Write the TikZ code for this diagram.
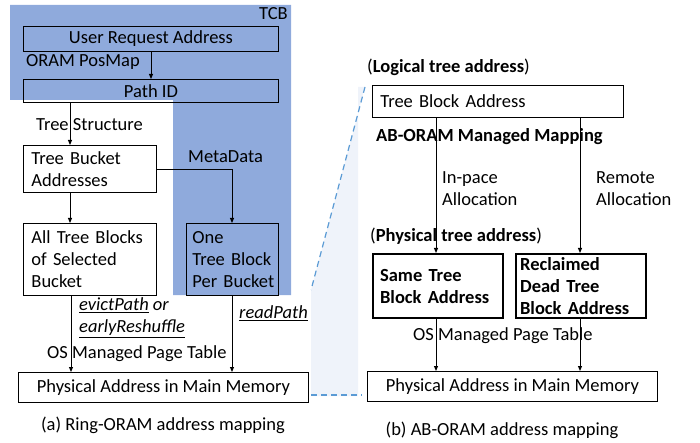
\documentclass[tikz,border=0pt]{standalone}
\usepackage{fontspec}
\setmainfont{Carlito}
\usetikzlibrary{arrows.meta}
\definecolor{tcbblue}{RGB}{143,170,220}
\definecolor{dashblue}{RGB}{91,155,213}
\definecolor{zoomshade}{RGB}{239,243,250}
\begin{document}
\begin{tikzpicture}[x=1pt,y=-1pt,
  every node/.style={font=\fontsize{18.5}{22}\selectfont, text=black},
  box/.style={draw=black, line width=0.9pt, anchor=north west, inner sep=0pt},
  tbox/.style={draw=black, line width=2.2pt, anchor=north west, inner sep=0pt},
  lbl/.style={anchor=west, inner sep=0pt, align=left},
  arr/.style={line width=0.9pt, -{Triangle[length=5pt,width=4pt]}}]
\useasboundingbox (0,0) rectangle (700,443);
% TCB region
\fill[tcbblue] (10,5) -- (291,5) -- (291,295) -- (173,295) -- (173,100) -- (10,100) -- cycle;
% shaded zoom region
\fill[zoomshade] (365,87) -- (311,290) -- (311,396) -- (358,396) -- (358,87) -- cycle;
\draw[dashblue, line width=1.2pt, dash pattern=on 6pt off 4pt] (365,87) -- (311,290);
\draw[dashblue, line width=1.2pt, dash pattern=on 6pt off 4pt] (311,395) -- (362,395);

\node[anchor=east, inner sep=0pt] (tcb) at (288,14) {TCB};
% left diagram
\node[box, minimum width=255pt, minimum height=25pt] (ura) at (23,26) {User Request Address};
\node[box, minimum width=255pt, minimum height=23pt] (pid) at (23,79) {Path ID};
\node[box, minimum width=133pt, minimum height=47pt, text width=125pt, align=left] (tba) at (23,145) {\hspace*{4pt}Tree Bucket\\\hspace*{4pt}Addresses};
\node[box, minimum width=133pt, minimum height=72pt, text width=125pt, align=left] (atb) at (23,223) {\hspace*{4pt}All Tree Blocks\\\hspace*{4pt}of Selected\\\hspace*{4pt}Bucket};
\node[box, minimum width=92pt, minimum height=72pt, text width=90pt, align=left] (otb) at (186,223) {\hspace*{5pt}One\\\hspace*{5pt}Tree Block\\\hspace*{5pt}Per Bucket};
\node[box, minimum width=290pt, minimum height=30pt] (pam) at (18,372) {Physical Address in Main Memory};

\node[lbl] (posmap) at (26,62) {ORAM PosMap};
\node[lbl] (tstruct) at (36,125) {Tree Structure};
\node[lbl] (meta) at (188,157) {MetaData};
\node[lbl] (evict) at (79,318) {\underline{\textit{evictPath}} \textit{or}\\\underline{\textit{earlyReshuffle}}};
\node[lbl] (readp) at (239,313) {\underline{\textit{readPath}}};
\node[lbl] (ospt) at (47,354) {OS Managed Page Table};
\node (capa) at (163,425) {(a) Ring-ORAM address mapping};

\coordinate (xa) at (151,0);
\coordinate (xb) at (70,0);
\coordinate (xc) at (232,0);
\coordinate (xd) at (71,0);
\draw[arr] (ura.south -| xa) -- (pid.north -| xa);
\draw[arr] (pid.south -| xb) -- (tba.north -| xb);
\draw[arr] (tba.south -| xb) -- (atb.north -| xb);
\draw[arr] (tba.east |- 0,169) -| (otb.north -| xc);
\draw[arr] (atb.south -| xd) -- (pam.north -| xd);
\draw[arr] (otb.south -| xc) -- (pam.north -| xc);

% right diagram
\node[lbl] (logical) at (367,67) {(\textbf{Logical tree address})};
\node[box, minimum width=251pt, minimum height=32pt, text width=245pt, align=left] (tbaddr) at (372,85) {\hspace*{5pt}Tree Block Address};
\node[lbl] (abmap) at (376,137) {\textbf{AB-ORAM Managed Mapping}};
\node[lbl] (inpace) at (442,189) {In-pace\\Allocation};
\node[lbl] (remote) at (596,189) {Remote\\Allocation};
\node[lbl] (physical) at (370,236) {(\textbf{Physical tree address})};
\node[tbox, minimum width=130pt, minimum height=64pt, text width=126pt, align=left] (same) at (372,253) {\hspace*{5pt}\textbf{Same Tree}\\\hspace*{5pt}\textbf{Block Address}};
\node[tbox, minimum width=130pt, minimum height=64pt, text width=126pt, align=left] (recl) at (515,253) {\hspace*{2pt}\textbf{Reclaimed}\\\hspace*{2pt}\textbf{Dead Tree}\\\hspace*{2pt}\textbf{Block Address}};
\node[box, minimum width=290pt, minimum height=30pt] (pam2) at (367,371) {Physical Address in Main Memory};
\node[lbl] (ospt2) at (413,336) {OS Managed Page Table};
\node (capb) at (502,430) {(b) AB-ORAM address mapping};

\coordinate (xe) at (436,0);
\coordinate (xf) at (580,0);
\draw[arr] (tbaddr.south -| xe) -- (same.north -| xe);
\draw[arr] (tbaddr.south -| xf) -- (recl.north -| xf);
\draw[arr] (same.south -| xe) -- (pam2.north -| xe);
\draw[arr] (recl.south -| xf) -- (pam2.north -| xf);
\end{tikzpicture}
\end{document}
